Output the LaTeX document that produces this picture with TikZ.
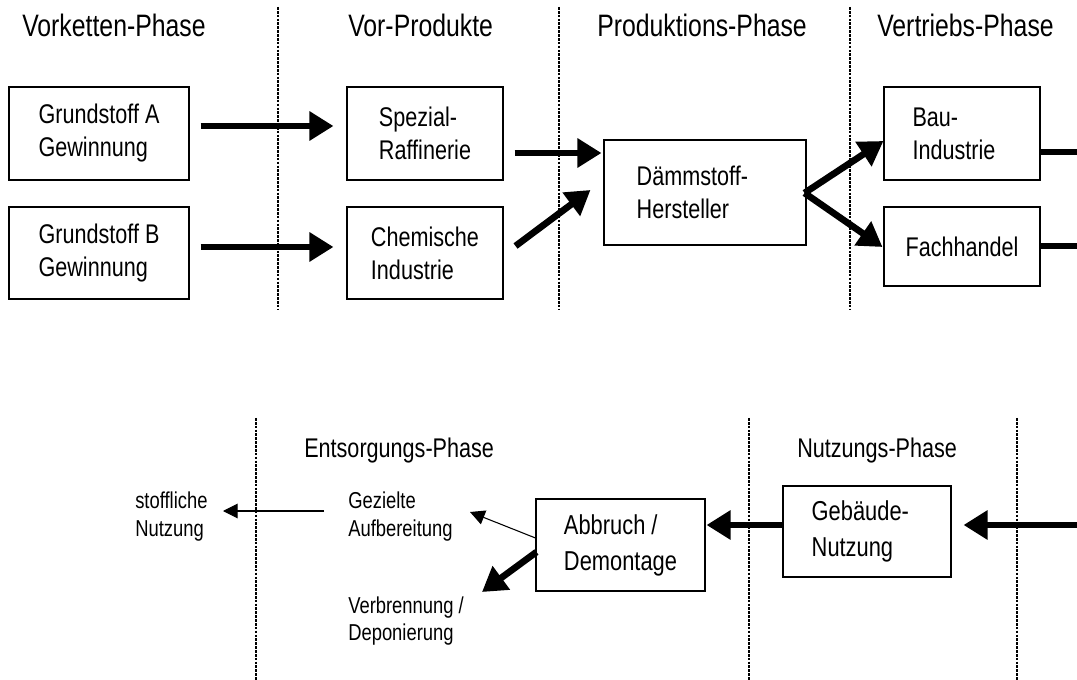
\documentclass[tikz,border=0pt]{standalone}
\usepackage{fontspec}
\setmainfont{Liberation Sans}[FakeStretch=0.8]
\usetikzlibrary{arrows.meta}

\tikzset{
  phase/.style={inner sep=0pt, anchor=base west, font={\fontsize{23.25pt}{28pt}\selectfont}},
  subphase/.style={inner sep=0pt, anchor=base west, font={\fontsize{20.25pt}{25pt}\selectfont}},
  stepbox/.style={draw, line width=0.8pt, align=left, inner sep=0pt,
    font={\fontsize{20.25pt}{24.75pt}\selectfont}},
  lowbox/.style={stepbox, font={\fontsize{20.5pt}{27pt}\selectfont}},
  outcome/.style={inner sep=0pt, anchor=north west, align=left,
    font={\fontsize{17.25pt}{21pt}\selectfont}},
  flow/.style={line width=5pt, -{Triangle[length=18pt,width=21pt]}},
  flowline/.style={line width=5pt},
  minorflow/.style={line width=0.8pt, -{Triangle[length=11pt,width=11pt]}},
  border/.style={line width=1.6pt, dash pattern=on 2pt off 0.9pt}
}

\begin{document}
\begin{tikzpicture}[x=0.75pt, y=-0.75pt]
\useasboundingbox (0,0) rectangle (1077,680);

% phase separators, upper chain
\draw[border] (278,7) -- (278,310);
\draw[border] (559,7) -- (559,310);
\draw[border] (850,7) -- (850,310);
% phase separators, lower chain
\draw[border] (256,418) -- (256,680);
\draw[border] (749,418) -- (749,680);
\draw[border] (1017,418) -- (1017,680);

% phase headings
\node[phase] (hvk) at (22,37)  {Vorketten-Phase};
\node[phase] (hvp) at (348,37) {Vor-Produkte};
\node[phase] (hpr) at (597,37) {Produktions-Phase};
\node[phase] (hvt) at (877,37) {Vertriebs-Phase};
\node[subphase] (hes) at (304,457) {Entsorgungs-Phase};
\node[subphase] (hnu) at (797,457) {Nutzungs-Phase};

% upper chain
\node[stepbox, minimum width=135pt, minimum height=69.75pt] (gA) at (99,133.5) {Grundstoff A\\Gewinnung};
\node[stepbox, minimum width=135pt, minimum height=69pt]    (gB) at (99,253)   {Grundstoff B\\Gewinnung};
\node[stepbox, minimum width=117pt, minimum height=69.75pt] (sr) at (425,133.5) {Spezial-\\Raffinerie};
\node[stepbox, minimum width=117pt, minimum height=69pt]    (ci) at (425,253)   {Chemische\\Industrie};
\node[stepbox, minimum width=151.5pt, minimum height=78.75pt] (dh) at (705,192.5) {Dämmstoff-\hspace*{19pt}\\Hersteller};
\node[stepbox, minimum width=117pt, minimum height=69.75pt] (bi) at (962,133.5) {Bau-\hspace*{40pt}\\Industrie};
\node[stepbox, minimum width=117pt, minimum height=59.25pt] (fh) at (962,246.5) {Fachhandel};

\coordinate (outB) at (1077,152);
\coordinate (outF) at (1077,246);

\draw[flow] ([shift={(11,-7.5)}]gA.east) -- ([shift={(-13,-7.5)}]sr.west);
\draw[flow] ([shift={(11,-6)}]gB.east) -- ([shift={(-13,-6)}]ci.west);
\draw[flow] ([shift={(11,19.5)}]sr.east) -- ([shift={(-2,-39.5)}]dh.west);
\draw[flow] ([shift={(12,-7)}]ci.east) -- ([shift={(-13,-2.5)}]dh.west);
\draw[flow] ([shift={(-2,0.5)}]dh.east) -- ([shift={(0,7.5)}]bi.west);
\draw[flow] ([shift={(-2,0.5)}]dh.east) -- ([shift={(-1,0.5)}]fh.west);
\draw[flowline] ([shift={(0,18.5)}]bi.east) -- (outB);
\draw[flowline] (fh.east |- outF) -- (outF);

% lower chain
\node[lowbox, minimum width=126.75pt, minimum height=69pt] (ad) at (620.5,545) {Abbruch /\\Demontage};
\node[lowbox, minimum width=126pt, minimum height=68.25pt] (gn) at (867,531.5) {Gebäude-\hspace*{10pt}\\Nutzung};
\node[outcome] (gz) at (348,492) {Gezielte\\Aufbereitung};
\node[outcome] (sn) at (135,492) {stoffliche\\Nutzung};
\node[outcome, font={\fontsize{17.25pt}{20pt}\selectfont}] (vd) at (348,597) {Verbrennung /\\Deponierung};

\coordinate (inN) at (1077,525);

\draw[flow] (inN) -- ([shift={(12,-6.5)}]gn.east);
\draw[flow] ([shift={(0,-6.5)}]gn.west) -- ([shift={(1,-20)}]ad.east);
\draw[minorflow] ([shift={(0,-7)}]ad.west) -- ([shift={(122,20)}]gz.north west);
\draw[flow] ([shift={(1,7)}]ad.west) -- ([shift={(134,-5)}]vd.north west);
\draw[minorflow] ([shift={(-24,19)}]gz.north west) -- ([shift={(88,19)}]sn.north west);
\end{tikzpicture}
\end{document}
